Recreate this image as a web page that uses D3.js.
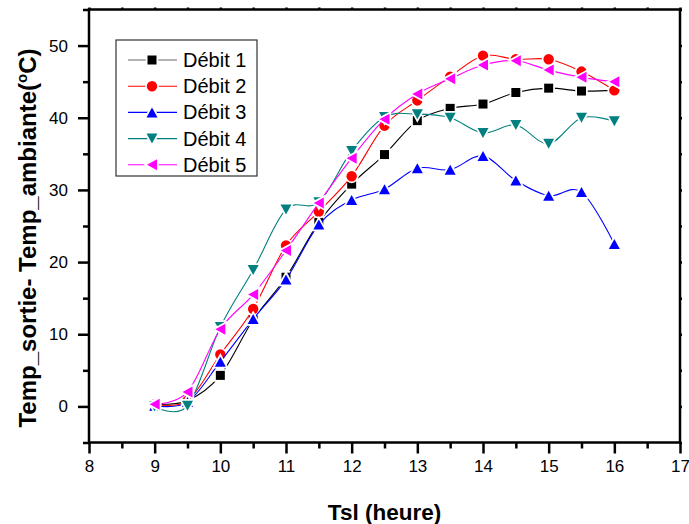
<!DOCTYPE html>
<html><head><meta charset="utf-8">
<script src="https://cdn.jsdelivr.net/npm/d3@7"></script>
<style>body{margin:0;background:#fff}svg{display:block}text{font-family:Arial,"Liberation Sans",sans-serif}</style>
</head><body><svg id="c" width="689" height="524"></svg>
<script>
const hours = [9, 9.5, 10, 10.5, 11, 11.5, 12, 12.5, 13, 13.5, 14, 14.5, 15, 15.5, 16];
const debit1 = [0.3, 0.8, 4.3, 12.0, 17.9, 25.5, 30.8, 34.9, 39.6, 41.3, 41.9, 43.5, 44.1, 43.7, 43.8];
const debit2 = [0.3, 0.8, 7.2, 13.5, 22.3, 27.0, 31.9, 38.9, 42.4, 45.7, 48.6, 48.1, 48.1, 46.4, 43.8];
const debit3 = [0.1, 0.6, 6.2, 12.1, 17.6, 25.2, 28.6, 30.1, 33.0, 32.8, 34.7, 31.3, 29.2, 29.7, 22.5];
const debit4 = [0.0, 0.1, 11.0, 18.9, 27.3, 28.3, 35.4, 40.1, 40.5, 40.0, 37.9, 39.0, 36.4, 40.0, 39.5];
const debit5 = [0.3, 2.0, 10.7, 15.5, 21.6, 28.2, 34.4, 39.8, 43.3, 45.4, 47.3, 47.9, 46.6, 45.6, 45.0];
const seriesNames = ["Débit 1", "Débit 2", "Débit 3", "Débit 4", "Débit 5"];
const xTicks = [8, 9, 10, 11, 12, 13, 14, 15, 16, 17];
const yTicks = [0, 10, 20, 30, 40, 50];
const xTitle = "Tsl (heure)";

const seriesValues = [debit1, debit2, debit3, debit4, debit5];
const colors = ["#000000", "#ff0000", "#0000ff", "#008080", "#ff00ff"];
const shapes = ["square", "circle", "up", "down", "left"];

const svg = d3.select("#c");
const x = d3.scaleLinear([8, 17], [89, 680]);
const y = d3.scaleLinear([-5, 55], [442.5, 9.5]);

function shapePath(s) {
  switch (s) {
    case "square": return "M-4.5,-4.5h9v9h-9Z";
    case "circle": return d3.symbol(d3.symbolCircle, Math.PI * 5.2 * 5.2)();
    case "up": return "M0,-5L5.5,5L-5.5,5Z";
    case "down": return "M0,5L5.5,-5L-5.5,-5Z";
    case "left": return "M-5,0L5,-5.5L5,5.5Z";
  }
}

// axes
const minorX = d3.range(8, 17.01, 0.5).filter(v => v % 1 !== 0);
const minorY = d3.range(-5, 55.01, 5).filter(v => v % 10 !== 0);

const gx = svg.append("g").attr("transform", "translate(0,442.5)")
  .call(d3.axisBottom(x).tickValues(xTicks).tickSize(11).tickPadding(6).tickFormat(d3.format("d")));
const gxm = svg.append("g").attr("transform", "translate(0,442.5)")
  .call(d3.axisBottom(x).tickValues(minorX).tickSize(6).tickFormat(""));
const gy = svg.append("g").attr("transform", "translate(89,0)")
  .call(d3.axisLeft(y).tickValues(yTicks).tickSize(11).tickPadding(10).tickFormat(d3.format("d")));
const gym = svg.append("g").attr("transform", "translate(89,0)")
  .call(d3.axisLeft(y).tickValues(minorY).tickSize(6).tickFormat(""));
const gt = svg.append("g").attr("transform", "translate(0,9.5)")
  .call(d3.axisTop(x).tickValues(xTicks.concat(minorX)).tickSize(2).tickFormat(""));
const gr = svg.append("g").attr("transform", "translate(680,0)")
  .call(d3.axisRight(y).tickValues(yTicks.concat(minorY)).tickSize(2).tickFormat(""));
[gx, gxm, gy, gym, gt, gr].forEach(g => {
  g.select(".domain").remove();
  g.selectAll(".tick line").attr("stroke", "#000").attr("stroke-width", 2.5);
  g.selectAll(".tick text").attr("fill", "#000").style("font-size", "17px")
    .style("font-family", "Arial, 'Liberation Sans', sans-serif");
});

svg.append("rect").attr("x", x(8)).attr("y", y(55))
  .attr("width", x(17) - x(8)).attr("height", y(-5) - y(55))
  .attr("fill", "none").attr("stroke", "#000").attr("stroke-width", 2.5);

// series
const line = d3.line().x(d => x(d[0])).y(d => y(d[1])).curve(d3.curveCardinal.tension(0));
seriesValues.forEach((vals, i) => {
  const pts = hours.map((h, j) => [h, vals[j]]);
  svg.append("path").attr("d", line(pts)).attr("fill", "none")
    .attr("stroke", colors[i]).attr("stroke-width", 1.1);
  svg.append("g").selectAll("path").data(pts).join("path")
    .attr("transform", d => `translate(${x(d[0])},${y(d[1])})`)
    .attr("d", shapePath(shapes[i]))
    .attr("fill", colors[i]).attr("stroke", "#fff").attr("stroke-width", 3.5)
    .attr("paint-order", "stroke");
});

// legend
const lg = svg.append("g");
lg.append("rect").attr("x", 116).attr("y", 40).attr("width", 141).attr("height", 136)
  .attr("fill", "#fff").attr("stroke", "#333").attr("stroke-width", 1.2);
seriesNames.forEach((n, i) => {
  const cy = 60 + i * 26.2;
  lg.append("line").attr("x1", 128).attr("x2", 177).attr("y1", cy).attr("y2", cy)
    .attr("stroke", colors[i]).attr("stroke-width", 1.1).attr("opacity", i === 0 ? 0.6 : 1);
  lg.append("path").attr("transform", `translate(152,${cy})`).attr("d", shapePath(shapes[i]))
    .attr("fill", colors[i]).attr("stroke", "#fff").attr("stroke-width", 3.5).attr("paint-order", "stroke");
  lg.append("text").attr("x", 183).attr("y", cy + 7).style("font-size", "20px").text(n);
});

// titles
svg.append("text").attr("x", (x(8) + x(17)) / 2).attr("y", 520).attr("text-anchor", "middle")
  .style("font-size", "22.5px").style("font-weight", "bold").text(xTitle);
const yt = svg.append("text").attr("transform", "translate(36,238) rotate(-90)")
  .attr("text-anchor", "middle").style("font-size", "24px").style("font-weight", "bold");
yt.append("tspan").text("Temp_sortie- Temp_ambiante(");
yt.append("tspan").attr("dy", -9).style("font-size", "15px").text("o");
yt.append("tspan").attr("dy", 9).text("C)");
</script></body></html>
